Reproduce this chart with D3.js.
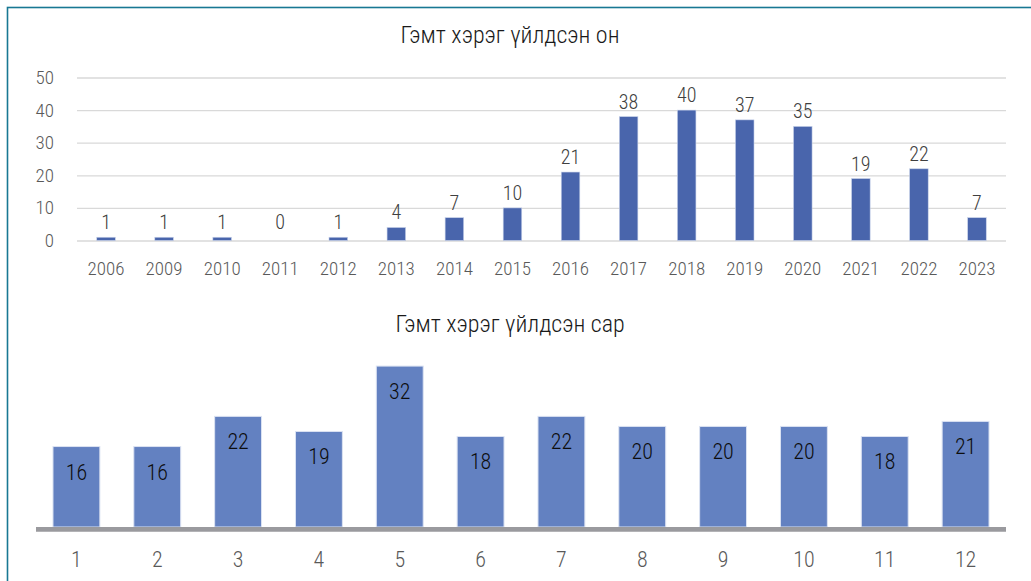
<!DOCTYPE html>
<html>
<head>
<meta charset="utf-8">
<script src="https://cdn.jsdelivr.net/npm/d3@7"></script>
<style>
    body { margin: 0; background: #fff; }
    text { font-family: "Roboto Condensed", "Liberation Sans Narrow", "Arial Narrow", Roboto, sans-serif; font-weight: 300; }
</style>
</head>
<body>
<div id="chart"></div>
<script>
// years and counts (top chart)
var years = ["2006", "2009", "2010", "2011", "2012", "2013", "2014", "2015", "2016", "2017", "2018", "2019", "2020", "2021", "2022", "2023"];
var yearCounts = [1, 1, 1, 0, 1, 4, 7, 10, 21, 38, 40, 37, 35, 19, 22, 7];
var yearTicks = [0, 10, 20, 30, 40, 50];

// months and counts (bottom chart)
var months = ["1", "2", "3", "4", "5", "6", "7", "8", "9", "10", "11", "12"];
var monthCounts = [16, 16, 22, 19, 32, 18, 22, 20, 20, 20, 18, 21];

var titleTop = "Гэмт хэрэг үйлдсэн он";
var titleBottom = "Гэмт хэрэг үйлдсэн сар";

var svgWidth = 1031;
var svgHeight = 581;

var svg = d3.select("#chart")
    .append("svg")
    .attr("width", svgWidth)
    .attr("height", svgHeight);

// frame
svg.append("rect")
    .attr("x", 7.5)
    .attr("y", 7.5)
    .attr("width", svgWidth + 10)
    .attr("height", svgHeight + 10)
    .attr("fill", "none")
    .attr("stroke", "#187893")
    .attr("stroke-width", 1.6);

// ---------- top chart ----------
var xTop = d3.scaleBand()
    .domain(years)
    .range([77, 1006])
    .paddingInner(0.68)
    .paddingOuter(0.34);

var yTop = d3.scaleLinear()
    .domain([0, 50])
    .range([240.5, 77.5]);

svg.append("text")
    .attr("x", 510)
    .attr("y", 42.5)
    .attr("text-anchor", "middle")
    .attr("font-size", 24)
    .attr("fill", "#1a1a1a")
    .text(titleTop);

// gridlines
var grid = svg.append("g")
    .attr("transform", "translate(77,0)")
    .call(d3.axisLeft(yTop).tickValues(yearTicks).tickSize(-929).tickFormat(""));
grid.select(".domain").remove();
grid.selectAll("line").attr("stroke", "#d9d9d9").attr("stroke-width", 1.3);

// y labels
var yAxis = svg.append("g")
    .attr("transform", "translate(54,0)")
    .call(d3.axisLeft(yTop).tickValues(yearTicks).tickSize(0).tickPadding(0));
yAxis.select(".domain").remove();
yAxis.selectAll("text")
    .attr("font-size", 19)
    .attr("fill", "#595959");

// x labels
var xAxis = svg.append("g")
    .attr("transform", "translate(0,240.5)")
    .call(d3.axisBottom(xTop).tickSize(0).tickPadding(21));
xAxis.select(".domain").remove();
xAxis.selectAll("text")
    .attr("font-size", 19)
    .attr("fill", "#595959");

svg.append("g")
    .selectAll("rect")
    .data(yearCounts)
    .enter()
    .append("rect")
    .attr("x", (d, i) => xTop(years[i]))
    .attr("y", d => yTop(d))
    .attr("width", xTop.bandwidth())
    .attr("height", d => yTop(0) - yTop(d))
    .attr("fill", "#4965ac")
    .attr("stroke", "#c9d3ea")
    .attr("stroke-width", 0.6);

svg.append("g")
    .selectAll("text")
    .data(yearCounts)
    .enter()
    .append("text")
    .attr("x", (d, i) => xTop(years[i]) + xTop.bandwidth() / 2)
    .attr("y", d => Math.min(yTop(d), yTop(1)) - 8)
    .attr("text-anchor", "middle")
    .attr("font-size", 20)
    .attr("fill", "#404040")
    .text(d => d);

// ---------- bottom chart ----------
var xBot = d3.scaleBand()
    .domain(months)
    .range([36, 1006])
    .paddingInner(0.42)
    .paddingOuter(0.21);

var yBot = d3.scaleLinear()
    .domain([0, 35])
    .range([527, 351]);

svg.append("text")
    .attr("x", 510)
    .attr("y", 332)
    .attr("text-anchor", "middle")
    .attr("font-size", 24)
    .attr("fill", "#1a1a1a")
    .text(titleBottom);

svg.append("g")
    .selectAll("rect")
    .data(monthCounts)
    .enter()
    .append("rect")
    .attr("x", (d, i) => xBot(months[i]))
    .attr("y", d => yBot(d))
    .attr("width", xBot.bandwidth())
    .attr("height", d => yBot(0) - yBot(d))
    .attr("fill", "#6381c1")
    .attr("stroke", "#dbe2f2")
    .attr("stroke-width", 1);

// baseline
svg.append("line")
    .attr("x1", 36)
    .attr("x2", 1006)
    .attr("y1", yBot(0) + 2.4)
    .attr("y2", yBot(0) + 2.4)
    .attr("stroke", "#9a9a9e")
    .attr("stroke-width", 4.8);

svg.append("g")
    .selectAll("text")
    .data(monthCounts)
    .enter()
    .append("text")
    .attr("x", (d, i) => xBot(months[i]) + xBot.bandwidth() / 2)
    .attr("y", d => yBot(d) + 33)
    .attr("text-anchor", "middle")
    .attr("font-size", 22)
    .attr("fill", "#0d0d0d")
    .text(d => d);

var xAxisBot = svg.append("g")
    .attr("transform", "translate(0,532)")
    .call(d3.axisBottom(xBot).tickSize(0).tickPadding(19));
xAxisBot.select(".domain").remove();
xAxisBot.selectAll("text")
    .attr("font-size", 22)
    .attr("fill", "#595959");
</script>
</body>
</html>
